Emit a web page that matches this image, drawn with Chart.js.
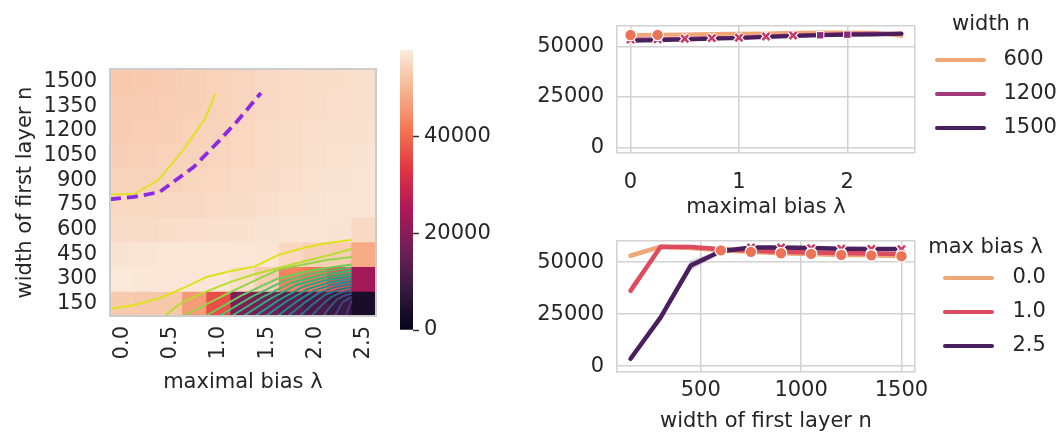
<!DOCTYPE html>
<html><head><meta charset="utf-8">
<script src="https://cdn.jsdelivr.net/npm/chart.js@4/dist/chart.umd.min.js"></script>
<style>
html,body{margin:0;padding:0;background:#fff;}
body{width:1059px;height:441px;position:relative;overflow:hidden}
canvas{position:absolute}
</style></head><body>
<canvas id="heat" width="400" height="441" style="left:0;top:0"></canvas>
<canvas id="cbar" width="95" height="441" style="left:400px;top:0"></canvas>
<canvas id="top" width="640" height="232" style="left:440px;top:0"></canvas>
<canvas id="bot" width="640" height="226" style="left:440px;top:215px"></canvas>
<script>
// ---------------- data ----------------
const lambdas = [0, 0.25, 0.5, 0.75, 1.0, 1.25, 1.5, 1.75, 2.0, 2.25, 2.5];
const widths = [150, 300, 450, 600, 750, 900, 1050, 1200, 1350, 1500];
// accuracy grid: rows = widths (150 -> 1500), cols = lambdas
const accGrid = [
  [53100, 52800, 52500, 46500, 36300, 18500, 16500, 14000, 11500, 9000, 3550],
  [57500, 57400, 57300, 57300, 57400, 56000, 53500, 43000, 41500, 37000, 23500],
  [56800, 57000, 57200, 57300, 57300, 57300, 57100, 55000, 54000, 53500, 48400],
  [55700, 55800, 56000, 56200, 56300, 56500, 56900, 57000, 57000, 56900, 55300],
  [55000, 55100, 55200, 55300, 55500, 55800, 56200, 56600, 56900, 57100, 57100],
  [54300, 54400, 54600, 54800, 55000, 55400, 55800, 56200, 56600, 56900, 57100],
  [54000, 54100, 54200, 54400, 54700, 55000, 55400, 55900, 56300, 56600, 56800],
  [53500, 53600, 53900, 54200, 54400, 55000, 55500, 55900, 56200, 56300, 56500],
  [53300, 53400, 53600, 53900, 54200, 54700, 55200, 55600, 55900, 56200, 56400],
  [52900, 53100, 53500, 53900, 54200, 54700, 55200, 55600, 55900, 56000, 56300]
];
const heatXTicks = [0, 0.5, 1.0, 1.5, 2.0, 2.5];
const cbTicks = [0, 20000, 40000];
const cMax = 58000;

// contour lines on the heatmap (lambda, n)
const contourTopLam = [-0.125, 0.125, 0.375, 0.625, 0.862, 0.963];
const contourTopN   = [813, 816, 901, 1077, 1277, 1426];
const dashedLam = [-0.125, 0.125, 0.389, 0.741, 0.983, 1.184, 1.436];
const dashedN   = [784, 798, 828, 980, 1126, 1253, 1429];
const lowerLam = [
  [-0.125, 0.125, 0.375, 0.625, 0.875, 1.125, 1.375, 1.625, 1.875, 2.125, 2.375],
  [0.439, 0.625, 0.875, 1.125, 1.375, 1.625, 1.875, 2.125, 2.375],
  [0.630, 1.124, 1.628, 2.121, 2.375],
  [0.862, 1.237, 1.613, 1.988, 2.375],
  [1.003, 1.343, 1.683, 2.023, 2.375],
  [1.134, 1.441, 1.749, 2.056, 2.375],
  [1.255, 1.532, 1.809, 2.086, 2.375],
  [1.376, 1.623, 1.869, 2.116, 2.375],
  [1.487, 1.706, 1.925, 2.144, 2.375],
  [1.608, 1.796, 1.985, 2.174, 2.375],
  [1.718, 1.880, 2.041, 2.202, 2.375],
  [1.839, 1.970, 2.101, 2.232, 2.375],
  [1.960, 2.061, 2.162, 2.262, 2.375],
  [2.081, 2.152, 2.222, 2.293, 2.375],
  [2.202, 2.282, 2.375],
  [2.313, 2.375]
];
const lowerN = [
  [117, 142, 181, 242, 312, 348, 376, 448, 488, 518, 537],
  [75, 160, 224, 282, 330, 367, 406, 442, 482],
  [75, 221, 360, 415, 433],
  [75, 200, 303, 356, 388],
  [75, 193, 290, 340, 370],
  [75, 186, 277, 323, 351],
  [75, 179, 265, 308, 334],
  [75, 172, 252, 294, 318],
  [75, 166, 240, 279, 302],
  [75, 159, 229, 265, 286],
  [75, 153, 217, 250, 269],
  [75, 145, 204, 234, 251],
  [75, 138, 190, 217, 233],
  [75, 130, 175, 198, 212],
  [75, 159, 190],
  [75, 169]
];

// top-right: accuracy vs maximal bias for three widths
const topNames = ['600', '1200', '1500'];
const accTopN600  = [55700, 55800, 56000, 56200, 56300, 56500, 56900, 57000, 57000, 56900, 55300];
const accTopN1200 = [53500, 53600, 53900, 54200, 54400, 55000, 55500, 55900, 56200, 56300, 56500];
const accTopN1500 = [52900, 53100, 53500, 53900, 54200, 54700, 55200, 55600, 55900, 56000, 56300];
const topXTicks = [0, 1, 2];
const topCircleIdx = [0, 1];
const topCrossIdx = [0, 1, 2, 3, 4, 5, 6];
const topSquareIdx = [7, 8];

// bottom-right: accuracy vs width for three maximal biases
const botNames = ['0.0', '1.0', '2.5'];
const accBotL0  = [53100, 57500, 56800, 55700, 55000, 54300, 54000, 53500, 53300, 52900];
const accBotL1  = [36300, 57400, 57300, 56300, 55500, 55000, 54700, 54400, 54200, 54000];
const accBotL25 = [3550, 23500, 48400, 55300, 57100, 57100, 56800, 56500, 56400, 56300];
const bandL1Lo  = [33500, 57000, 57000, 56000, 55200, 54700, 54400, 54100, 53900, 53700];
const bandL1Hi  = [39000, 57800, 57600, 56600, 55800, 55300, 55000, 54700, 54500, 54300];
const bandL25Lo = [2800, 21800, 46000, 54700, 56800, 56800, 56500, 56200, 56100, 56000];
const bandL25Hi = [4300, 25200, 50800, 55900, 57400, 57400, 57100, 56800, 56700, 56600];
const botXTicks = [500, 1000, 1500];
const botCircleIdx = [3, 4, 5, 6, 7, 8, 9];
const botCrossIdx = [4, 5, 6, 7, 8, 9];
const accTicks = [0, 25000, 50000];

// ---------------- styles ----------------
const FAMILY = "'DejaVu Sans', 'Liberation Sans', sans-serif";
const TEXT = '#262626';
const GRID = '#d2d2d2';
Chart.defaults.font.family = FAMILY;
Chart.defaults.font.size = 21;
Chart.defaults.color = TEXT;

const rocketStops = [
  [0.000, [3, 5, 26]], [0.143, [53, 25, 62]], [0.286, [112, 31, 87]], [0.429, [173, 23, 89]],
  [0.571, [225, 51, 66]], [0.714, [243, 118, 81]], [0.857, [246, 180, 143]], [1.000, [250, 235, 221]]
];
function rocket(t) {
  t = Math.max(0, Math.min(1, t));
  for (let i = 1; i < rocketStops.length; i++) {
    if (t <= rocketStops[i][0]) {
      const [p0, c0] = rocketStops[i - 1], [p1, c1] = rocketStops[i];
      const f = (t - p0) / (p1 - p0);
      return 'rgb(' + c0.map((v, k) => Math.round(v + (c1[k] - v) * f)).join(',') + ')';
    }
  }
  return 'rgb(250,235,221)';
}
const viridis = ['#dde318', '#b8de29', '#8fd744', '#6ccd5a', '#4fc16b', '#38b977', '#29af7f', '#20a386',
  '#1f968b', '#23898e', '#287c8e', '#2d6f8e', '#33638d', '#39568c', '#3f4889', '#453781'];
const topColors = ['#efa778', '#a1397a', '#4b1f5e'];
const botColors = ['#efa778', '#dd4b5f', '#4b1f5e'];

const ticksFrom = arr => s => { s.ticks = arr.map(v => ({value: v})); };
const pts = (xs, ys) => xs.map((x, i) => ({x: x, y: ys[i]}));
const pick = (xs, ys, idx) => idx.map(i => ({x: xs[i], y: ys[i]}));
const spine = (pos, color, w, size) => ({
  type: 'linear', position: pos, display: true, min: 0, max: 1,
  grid: {display: false, drawTicks: false}, ticks: {display: false},
  border: {display: true, color: color, width: w, z: 1},
  afterFit: s => { if (pos === 'top') s.height = size; else s.width = size; }
});
const lineDs = (data, color, width, order, extra) => Object.assign({
  type: 'line', data: data, borderColor: color, borderWidth: width, pointRadius: 0,
  fill: false, tension: 0, order: order, borderCapStyle: 'round', borderJoinStyle: 'round'
}, extra || {});
const markDs = (data, style, r, bg, border, bw, order) => ({
  type: 'line', data: data, showLine: false, pointStyle: style, pointRadius: r,
  pointBackgroundColor: bg, pointBorderColor: border, pointBorderWidth: bw, order: order
});

// ---------------- heatmap ----------------
const rowHalf = (widths[1] - widths[0]) / 2;
const heatCells = [];
widths.forEach((n, r) => lambdas.forEach((l, c) => heatCells.push({x: l, y: [n - rowHalf, n + rowHalf], v: accGrid[r][c]})));

const heatDatasets = [{
  type: 'bar', data: heatCells, order: 50, borderWidth: 0, barPercentage: 1, categoryPercentage: 1,
  backgroundColor: ctx => ctx.raw ? rocket(ctx.raw.v / cMax) : '#fff'
}];
lowerLam.forEach((lam, i) => heatDatasets.push(lineDs(pts(lam, lowerN[i]), viridis[i], 1.9, 10 + i, {borderCapStyle: 'butt'})));
heatDatasets.push(lineDs(pts(contourTopLam, contourTopN), viridis[0], 1.9, 5, {borderCapStyle: 'butt'}));
heatDatasets.push(lineDs(pts(dashedLam, dashedN), '#8a2be2', 3.8, 1, {borderDash: [11, 6], borderCapStyle: 'butt'}));

new Chart(document.getElementById('heat'), {
  type: 'bar',
  data: {datasets: heatDatasets},
  options: {
    responsive: false, animation: false, events: [],
    layout: {padding: {left: 13, top: 69, right: 17, bottom: 45.4}},
    plugins: {legend: {display: false}, tooltip: {enabled: false}},
    scales: {
      x: {
        type: 'linear', min: -0.125, max: 2.625, offset: false,
        afterBuildTicks: ticksFrom(heatXTicks),
        grid: {display: false, drawTicks: false},
        border: {display: true, color: '#cccccc', width: 2, z: 1},
        ticks: {minRotation: 90, maxRotation: 90, padding: 10, autoSkip: false, callback: v => Number(v).toFixed(1)},
        title: {display: true, text: 'maximal bias λ', padding: 0},
        afterFit: s => { s.height = 79.6; }
      },
      y: {
        type: 'linear', min: 75, max: 1575,
        afterBuildTicks: ticksFrom(widths),
        grid: {display: false, drawTicks: false},
        border: {display: true, color: '#cccccc', width: 2, z: 1},
        ticks: {padding: 13, autoSkip: false, callback: v => String(v)},
        title: {display: true, text: 'width of first layer n', padding: 0},
        afterFit: s => { s.width = 97; }
      },
      xT: spine('top', '#cccccc', 2, 0),
      yR: spine('right', '#cccccc', 2, 0)
    }
  }
});

// ---------------- colorbar ----------------
new Chart(document.getElementById('cbar'), {
  type: 'bar',
  data: {labels: [''], datasets: [{
    data: [[0, cMax]], borderWidth: 0, barPercentage: 1, categoryPercentage: 1,
    backgroundColor: ctx => {
      const a = ctx.chart.chartArea;
      if (!a) return '#888';
      const g = ctx.chart.ctx.createLinearGradient(0, a.bottom, 0, a.top);
      rocketStops.forEach(([p, c]) => g.addColorStop(p, 'rgb(' + c.join(',') + ')'));
      return g;
    }
  }]},
  options: {
    responsive: false, animation: false, events: [],
    layout: {padding: {left: 0, top: 50, right: 0, bottom: 111}},
    plugins: {legend: {display: false}, tooltip: {enabled: false}},
    scales: {
      x: {display: false},
      y: {
        position: 'right', min: 0, max: cMax,
        afterBuildTicks: ticksFrom(cbTicks),
        grid: {display: true, drawOnChartArea: false, drawTicks: true, tickLength: 6, tickWidth: 1.5, tickColor: '#333'},
        border: {display: false},
        ticks: {padding: 5, callback: v => String(v)},
        afterFit: s => { s.width = 82; }
      }
    }
  }
});

// ---------------- line charts ----------------
// legend handle image: a line of given length, offset from the left of the legend box
function handleImg(color, boxW, offset, len) {
  const c = document.createElement('canvas');
  c.width = boxW; c.height = 6;
  const g = c.getContext('2d');
  g.strokeStyle = color; g.lineWidth = 4; g.lineCap = 'round';
  g.beginPath(); g.moveTo(offset + 2, 3); g.lineTo(offset + len - 2, 3); g.stroke();
  return c;
}
function legendCfg(title, names, colors, tp) {
  return {
    display: true, position: 'right', align: 'start',
    title: {display: true, text: title, color: TEXT, font: {size: 21, lineHeight: tp.lh}, padding: {top: tp.top, bottom: tp.bottom}},
    labels: {
      usePointStyle: true, pointStyleWidth: tp.boxW, boxHeight: 6, padding: 13, color: TEXT, font: {size: 21},
      generateLabels: () => names.map((t, i) => ({
        text: t, fillStyle: colors[i], strokeStyle: colors[i], lineWidth: 0, hidden: false,
        datasetIndex: i, fontColor: TEXT, pointStyle: handleImg(colors[i], tp.boxW, tp.off, 51)
      }))
    }
  };
}
function accAxes(xmin, xmax, xticks, title, xTickPad, xHeight, yW) {
  const ymin = -2800, ymax = 60400;
  return {
    x: {
      type: 'linear', min: xmin, max: xmax, afterBuildTicks: ticksFrom(xticks.concat([xmax])),
      grid: {color: GRID, lineWidth: 1.5, drawTicks: false},
      border: {display: true, color: GRID, width: 1.5},
      ticks: {padding: xTickPad, autoSkip: false, maxRotation: 0, callback: v => (v === xmax ? '' : String(v))},
      title: {display: true, text: title, padding: 0},
      afterFit: s => { s.height = xHeight; }
    },
    y: {
      type: 'linear', min: ymin, max: ymax, afterBuildTicks: ticksFrom(accTicks.concat([ymax])),
      grid: {color: GRID, lineWidth: 1.5, drawTicks: false},
      border: {display: true, color: GRID, width: 1.5},
      ticks: {padding: 13, autoSkip: false, callback: v => (v === ymax ? '' : String(v))},
      afterFit: s => { s.width = yW; }
    }
  };
}
function fixRight(chart, target) {
  for (let k = 0; k < 4; k++) {
    const d = chart.chartArea.right - target;
    if (Math.abs(d) < 0.05) break;
    chart.options.layout.padding.right += d;
    chart.update();
  }
}

const topChart = new Chart(document.getElementById('top'), {
  type: 'line',
  data: {datasets: [
    lineDs(pts(lambdas, accTopN600), topColors[0], 4, 10),
    lineDs(pts(lambdas, accTopN1200), topColors[1], 4, 9),
    lineDs(pts(lambdas, accTopN1500), topColors[2], 4, 8),
    markDs(pick(lambdas, accTopN1200, topCrossIdx), 'crossRot', 5.5, '#ffffff', '#ffffff', 5, 7),
    markDs(pick(lambdas, accTopN1200, topCrossIdx), 'crossRot', 5, '#cc3d65', '#cc3d65', 2.6, 6),
    markDs(pick(lambdas, accTopN1500, topSquareIdx), 'rect', 5.2, '#8c2b78', '#ffffff', 1, 5),
    markDs(pick(lambdas, accTopN600, topCircleIdx), 'circle', 5.8, '#eb7358', '#ffffff', 1.2, 4)
  ]},
  options: {
    responsive: false, animation: false, events: [],
    layout: {padding: {left: 0, top: 5, right: 0, bottom: 11.4}},
    plugins: {tooltip: {enabled: false}, legend: legendCfg('width n', topNames, topColors, {lh: 1, top: 9.5, bottom: 1, boxW: 65, off: 7})},
    scales: accAxes(-0.125, 2.625, topXTicks, 'maximal bias λ', 17, 67.6, 177)
  }
});
fixRight(topChart, 475);

const botChart = new Chart(document.getElementById('bot'), {
  type: 'line',
  data: {datasets: [
    lineDs(pts(widths, accBotL0), botColors[0], 4.5, 10),
    lineDs(pts(widths, accBotL1), botColors[1], 4.5, 9),
    lineDs(pts(widths, accBotL25), botColors[2], 4.5, 8),
    lineDs(pts(widths, bandL1Hi), 'rgba(0,0,0,0)', 0, 20, {fill: '+1', backgroundColor: 'rgba(221,75,95,0.22)'}),
    lineDs(pts(widths, bandL1Lo), 'rgba(0,0,0,0)', 0, 20),
    lineDs(pts(widths, bandL25Hi), 'rgba(0,0,0,0)', 0, 20, {fill: '+1', backgroundColor: 'rgba(75,31,94,0.22)'}),
    lineDs(pts(widths, bandL25Lo), 'rgba(0,0,0,0)', 0, 20),
    markDs(pick(widths, accBotL25, botCrossIdx), 'crossRot', 5.5, '#ffffff', '#ffffff', 5, 7),
    markDs(pick(widths, accBotL25, botCrossIdx), 'crossRot', 5, '#cc3d65', '#cc3d65', 2.6, 6),
    markDs(pick(widths, accBotL0, botCircleIdx), 'circle', 5.8, '#eb7358', '#ffffff', 1.2, 4)
  ]},
  options: {
    responsive: false, animation: false, events: [],
    layout: {padding: {left: 0, top: 8, right: 0, bottom: 6.4}},
    plugins: {tooltip: {enabled: false}, legend: legendCfg('max bias λ', botNames, botColors, {lh: 0.8, top: 14.5, bottom: 0.2, boxW: 74, off: 15})},
    scales: accAxes(82.5, 1567.5, botXTicks, 'width of first layer n', 6, 62.6, 177)
  }
});
fixRight(botChart, 475);
</script>
</body></html>
